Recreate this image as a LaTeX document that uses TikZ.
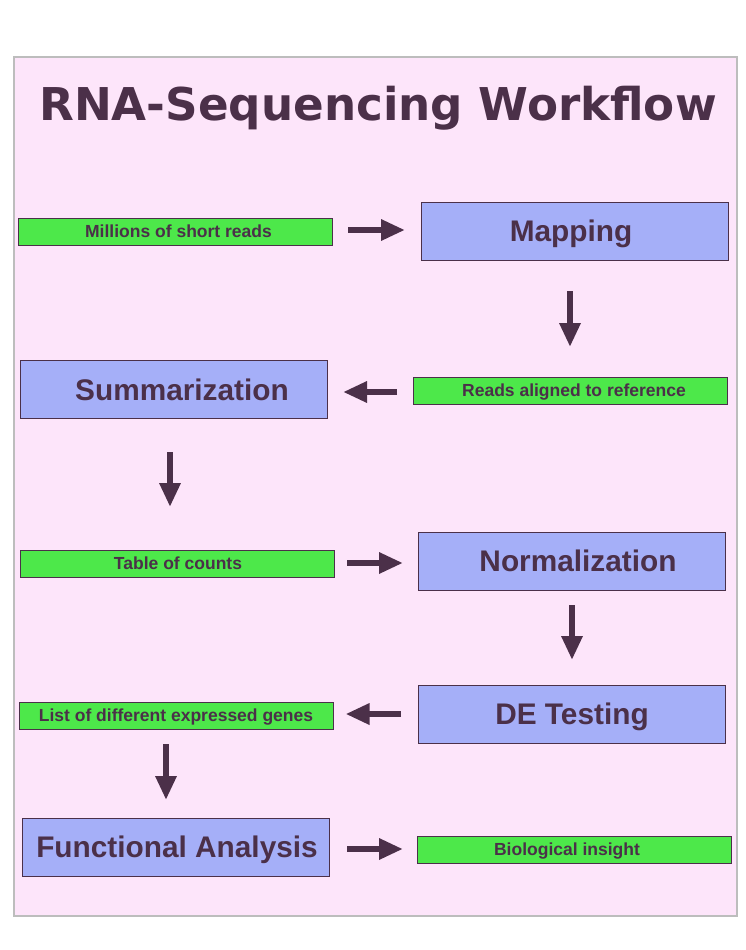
\documentclass[tikz,border=0pt]{standalone}
\usepackage{fontspec}
\setmainfont{Liberation Sans}
\newfontfamily\titlefont{DejaVu Sans}
\usetikzlibrary{arrows.meta}
\definecolor{ink}{HTML}{4B3049}
\definecolor{pinkbg}{HTML}{FDE5FA}
\definecolor{framegray}{HTML}{BDBDBD}
\definecolor{boxblue}{HTML}{A5AFF8}
\definecolor{boxgreen}{HTML}{4DE84A}
\begin{document}
\begin{tikzpicture}[x=1pt,y=-1pt,
  greenbox/.style={draw=ink, fill=boxgreen, line width=1pt, minimum width=314pt, minimum height=27pt, inner sep=0pt, outer sep=0pt},
  bluebox/.style={draw=ink, fill=boxblue, line width=1pt, minimum width=307pt, minimum height=58pt, inner sep=0pt, outer sep=0pt},
  gtext/.style={anchor=base, inner sep=0pt, text=ink, font=\fontsize{17.5}{20}\selectfont\bfseries},
  btext/.style={anchor=base, inner sep=0pt, text=ink, font=\fontsize{29.8}{34}\selectfont\bfseries},
  arr/.style={draw=ink, line width=6pt, -{Triangle[length=24pt,width=20pt]}}
]
\useasboundingbox (0,0) rectangle (745,950);
\draw[fill=pinkbg, draw=framegray, line width=1.5pt] (14,57) rectangle (737,916);
\node[anchor=base, inner sep=0pt, text=ink, font=\titlefont\fontsize{45.2}{50}\selectfont\bfseries] (title) at (378,120.5) {RNA-Sequencing Workflow};

% boxes
\node[greenbox] (mill) at (175,231.5) {};
\node[bluebox] (map) at (574.5,231) {};
\node[greenbox] (reads) at (570,390.5) {};
\node[bluebox] (summ) at (173.5,389) {};
\node[greenbox] (table) at (177,563.5) {};
\node[bluebox] (norm) at (571.5,561) {};
\node[bluebox] (de) at (571.5,714) {};
\node[greenbox] (list) at (176.5,715.5) {};
\node[bluebox] (func) at (175.5,847) {};
\node[greenbox] (bio) at (574,849.5) {};

% texts
\node[gtext] (millT) at (178.5,237) {Millions of short reads};
\node[btext] (mapT) at (571,241.5) {Mapping};
\node[gtext] (readsT) at (574,396) {Reads aligned to reference};
\node[btext] (summT) at (182,400) {Summarization};
\node[gtext] (tableT) at (178,569) {Table of counts};
\node[btext] (normT) at (578,571.5) {Normalization};
\node[btext] (deT) at (572,724.5) {DE Testing};
\node[gtext] (listT) at (176,721) {List of different expressed genes};
\node[btext] (funcT) at (177,857.5) {Functional Analysis};
\node[gtext] (bioT) at (567,855) {Biological insight};

% arrows
\draw[arr] ([xshift=16pt,yshift=1.5pt]mill.east) -- ([xshift=-16pt,yshift=1pt]map.west);
\draw[arr] ([xshift=-4.5pt,yshift=-31pt]map.south) -- ([yshift=30pt]reads.north);
\draw[arr] ([xshift=-16pt,yshift=-1.5pt]reads.west) -- ([xshift=16pt,yshift=-3pt]summ.east);
\draw[arr] ([xshift=-3.5pt,yshift=-34pt]summ.south) -- ([xshift=-7pt,yshift=43pt]table.north);
\draw[arr] ([xshift=13pt,yshift=0.5pt]table.east) -- ([xshift=-15pt,yshift=-2pt]norm.west);
\draw[arr] ([xshift=0.5pt,yshift=-15pt]norm.south) -- ([xshift=0.5pt,yshift=25pt]de.north);
\draw[arr] ([xshift=-17pt]de.west) -- ([xshift=12pt,yshift=1.5pt]list.east);
\draw[arr] ([xshift=-10.5pt,yshift=-15pt]list.south) -- ([xshift=-9.5pt,yshift=18pt]func.north);
\draw[arr] ([xshift=18pt,yshift=-2pt]func.east) -- ([xshift=-14pt,yshift=0.5pt]bio.west);
\end{tikzpicture}
\end{document}
